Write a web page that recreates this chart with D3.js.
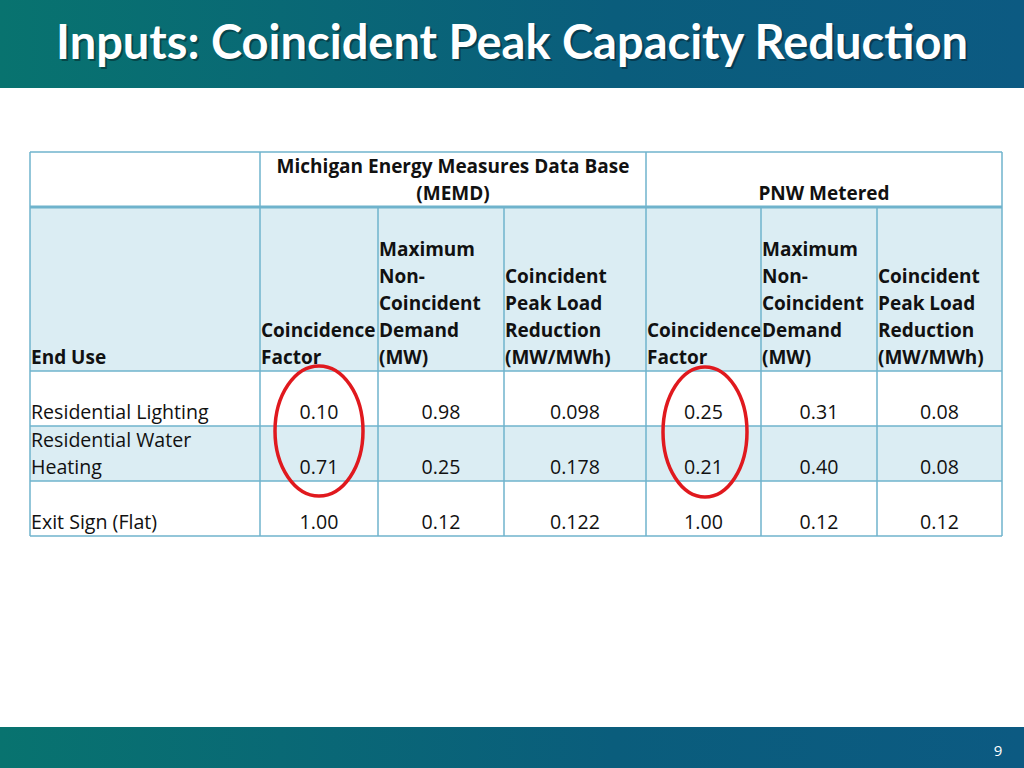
<!DOCTYPE html><html><head><meta charset="utf-8">
<script src="https://cdn.jsdelivr.net/npm/d3@7"></script>
<style>body{margin:0;background:#fff}svg{display:block}</style></head><body>
<svg id="c" width="1024" height="768"></svg>
<script>
const title = "Inputs: Coincident Peak Capacity Reduction";
const groupHeaders = [["", ""], ["Michigan Energy Measures Data Base", "(MEMD)"], ["", "PNW Metered"]];
const columnHeaders = [
 ["End Use"],
 ["Coincidence","Factor"],
 ["Maximum","Non-","Coincident","Demand","(MW)"],
 ["Coincident","Peak Load","Reduction","(MW/MWh)"],
 ["Coincidence","Factor"],
 ["Maximum","Non-","Coincident","Demand","(MW)"],
 ["Coincident","Peak Load","Reduction","(MW/MWh)"]];
const endUses = [["Residential Lighting"],["Residential Water","Heating"],["Exit Sign (Flat)"]];
const memdCF = ["0.10","0.71","1.00"];
const memdMax = ["0.98","0.25","0.12"];
const memdPeak = ["0.098","0.178","0.122"];
const pnwCF = ["0.25","0.21","1.00"];
const pnwMax = ["0.31","0.40","0.12"];
const pnwPeak = ["0.08","0.08","0.12"];

const svg = d3.select("#c");
const defs = svg.append("defs");
const g1 = defs.append("linearGradient").attr("id","hg");
g1.append("stop").attr("offset","0").attr("stop-color","#08736f");
g1.append("stop").attr("offset","0.6").attr("stop-color","#0a5d7c");
g1.append("stop").attr("offset","1").attr("stop-color","#0c5a82");
svg.append("rect").attr("width",1024).attr("height",88).attr("fill","url(#hg)");
svg.append("text").attr("x",512).attr("y",59).attr("text-anchor","middle").attr("fill","#000").attr("opacity",0.35)
 .attr("font-family","Lato").attr("font-weight","bold").attr("font-size",47).attr("transform","translate(2,2)").text(title);
svg.append("text").attr("x",512).attr("y",59).attr("text-anchor","middle").attr("fill","#fff")
 .attr("font-family","Lato").attr("font-weight","bold").attr("font-size",47).text(title);
svg.append("rect").attr("y",727).attr("width",1024).attr("height",41).attr("fill","url(#hg)");
svg.append("text").attr("x",998).attr("y",756).attr("text-anchor","middle").attr("fill","#fff")
 .attr("font-family","Open Sans").attr("font-size",15).text("9");

const colX = [30,260,378,504,646,761,877,1002];
const rowY = [152,207,371,426,481,536];
const light = "#dbedf3", line = "#6fb3cc";
const fills = ["#fff",light,"#fff",light,"#fff"];
const ff = "Open Sans", fs = 19, fsn = 19.6;
fills.forEach((f,i)=>svg.append("rect").attr("x",30).attr("y",rowY[i]).attr("width",972).attr("height",rowY[i+1]-rowY[i]).attr("fill",f));

const grpSpans = [[0,1],[1,4],[4,7]];
grpSpans.forEach(([a,b],i)=>{
  const cx=(colX[a]+colX[b])/2;
  groupHeaders[i].forEach((t,k)=>svg.append("text").attr("x",cx).attr("y",173+k*27).attr("text-anchor","middle")
    .attr("font-family",ff).attr("font-weight","bold").attr("font-size",fs).attr("fill","#111").text(t));
});
columnHeaders.forEach((lines,c)=>{
  const n=lines.length;
  lines.forEach((t,k)=>svg.append("text").attr("x",colX[c]+1).attr("y",364-(n-1-k)*27)
    .attr("font-family",ff).attr("font-weight","bold").attr("font-size",fs).attr("fill","#111").text(t));
});
const cols = [memdCF,memdMax,memdPeak,pnwCF,pnwMax,pnwPeak];
endUses.forEach((lines,r)=>{
  const base = rowY[r+2+1]-7;
  lines.forEach((t,k)=>svg.append("text").attr("x",31).attr("y",base-(lines.length-1-k)*27)
    .attr("font-family",ff).attr("font-size",fsn).attr("fill","#111").text(t));
  cols.forEach((col,c)=>svg.append("text").attr("x",(colX[c+1]+colX[c+2])/2).attr("y",base).attr("text-anchor","middle")
    .attr("font-family",ff).attr("font-size",fsn).attr("fill","#111").text(col[r]));
});
rowY.forEach((y,i)=>svg.append("line").attr("x1",30).attr("x2",1002).attr("y1",y).attr("y2",y)
  .attr("stroke",line).attr("stroke-width",i==1?3:1.5));
colX.forEach((x,i)=>{
  const top = (i==0||i==1||i==4||i==7)?152:207;
  svg.append("line").attr("x1",x).attr("x2",x).attr("y1",top).attr("y2",536).attr("stroke",line).attr("stroke-width",1.5);
});
[[319,431,44,65],[705,432,42,65]].forEach(([cx,cy,rx,ry])=>svg.append("ellipse").attr("cx",cx).attr("cy",cy)
  .attr("rx",rx).attr("ry",ry).attr("fill","none").attr("stroke","#e0191e").attr("stroke-width",3.5));
</script></body></html>
